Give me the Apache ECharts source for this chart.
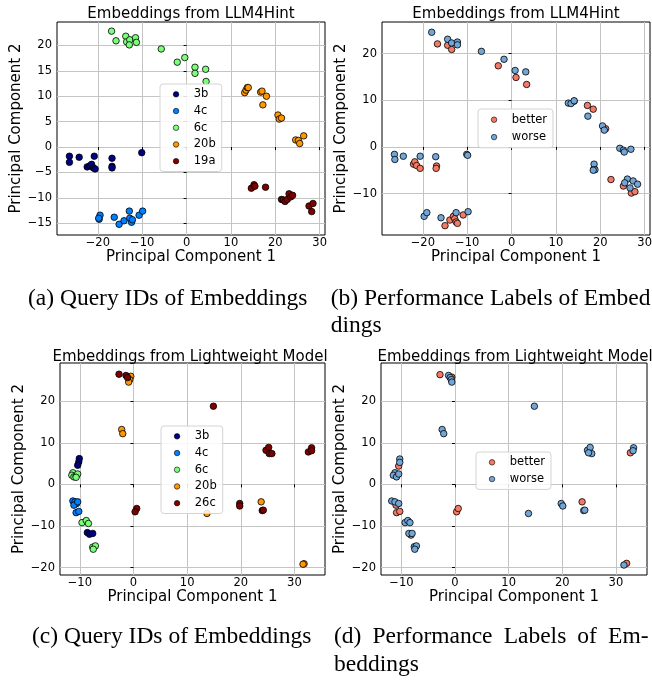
<!DOCTYPE html>
<html>
<head>
<meta charset="utf-8">
<script src="https://cdn.jsdelivr.net/npm/echarts@6/dist/echarts.min.js"></script>
<style>
html,body{margin:0;padding:0;background:#fff;}
#chart{width:652px;height:681px;}
</style>
</head>
<body>
<div id="chart"></div>
<script>
// ---------- DATA ----------
// Panel (a): Query IDs, LLM4Hint
const a3b  = [[-26.4,-1.8],[-26.4,-3.0],[-24.2,-2.0],[-22.4,-3.9],[-21.8,-3.7],[-21.4,-3.4],[-21.0,-4.1],[-20.8,-1.8],[-20.6,-4.3],[-16.8,-2.2],[-16.8,-3.8],[-16.8,-4.1],[-10.1,-1.1]];
const a4c  = [[-19.7,-14.2],[-19.5,-13.4],[-19.8,-14.0],[-16.3,-13.8],[-15.2,-15.2],[-14.1,-14.5],[-12.9,-12.6],[-12.8,-14.0],[-12.4,-14.8],[-12.2,-14.3],[-10.7,-13.4],[-9.9,-12.6]];
const a6c  = [[-16.9,22.8],[-15.9,20.9],[-13.7,21.8],[-13.5,20.7],[-12.8,21.1],[-12.9,20.1],[-11.5,21.5],[-11.3,20.6],[-5.7,19.3],[-2.1,16.7],[-0.4,17.6],[1.9,15.7],[1.9,14.5],[4.3,15.3],[4.4,12.9]];
const a20b = [[13.1,10.7],[13.4,11.2],[13.7,11.7],[13.9,11.7],[16.7,10.8],[17.0,11.0],[18.0,10.0],[17.2,8.3],[20.6,6.3],[20.9,5.5],[21.4,5.7],[24.6,1.4],[25.2,1.3],[25.5,0.7],[26.4,2.2]];
const a19a = [[14.6,-8.1],[15.2,-7.4],[15.4,-7.7],[17.8,-7.9],[21.4,-10.3],[21.8,-10.4],[22.2,-10.7],[22.7,-10.3],[23.1,-9.2],[23.5,-9.8],[23.9,-9.5],[27.6,-11.6],[28.2,-12.7],[28.5,-11.1]];

// Panel (b): Performance labels, LLM4Hint
const bBetter = [[-16.7,22.1],[-14.4,21.8],[-13.5,20.9],[-3.0,17.4],[1.0,14.9],[3.4,13.4],[14.1,9.8],[17.1,8.9],[18.4,8.1],[21.2,3.9],[18.6,-4.6],[22.4,-7.0],[25.2,-8.4],[27.0,-9.9],[27.8,-9.6],[-22.1,-3.7],[-21.8,-3.2],[-21.4,-4.0],[-20.6,-4.6],[-16.9,-4.1],[-17.0,-4.6],[-15.0,-16.9],[-13.9,-15.7],[-13.1,-14.9],[-12.8,-15.4],[-12.5,-16.1],[-12.2,-16.4],[-10.9,-14.6]];
const bWorse  = [[-18.0,24.6],[-14.4,23.1],[-13.5,22.3],[-12.2,22.5],[-12.2,21.9],[-6.8,20.5],[-1.7,18.8],[0.8,16.4],[3.2,16.1],[12.8,9.4],[13.4,9.3],[14.1,9.9],[17.2,6.6],[20.5,4.5],[20.9,3.6],[24.4,-0.3],[25.2,-0.7],[25.4,-1.1],[26.9,-0.5],[18.6,-3.7],[18.8,-4.9],[18.4,-5.0],[26.1,-6.9],[25.5,-7.7],[26.7,-8.8],[27.4,-7.3],[28.4,-8.0],[-26.4,-1.6],[-26.3,-2.7],[-24.4,-2.0],[-20.6,-2.0],[-17.1,-2.1],[-10.1,-1.6],[-9.9,-1.8],[-19.7,-14.9],[-19.1,-14.1],[-15.9,-15.2],[-12.5,-14.1],[-9.8,-13.9]];

// Panel (c): Query IDs, Lightweight model
const c3b  = [[-10.1,6.2],[-10.2,5.4],[-10.4,4.6],[-8.6,-11.6],[-8.2,-12.0],[-7.6,-11.8]];
const c4c  = [[-11.3,-4.0],[-10.9,-4.2],[-10.6,-4.6],[-11.1,-5.0],[-10.4,-4.2],[-10.7,-6.8],[-10.2,-6.5]];
const c6c  = [[-11.3,2.8],[-11.5,2.2],[-11.1,1.8],[-10.7,2.0],[-10.4,2.5],[-10.7,1.7],[-9.6,-9.2],[-8.8,-8.7],[-8.4,-9.4],[-7.6,-15.1],[-7.1,-14.8],[-7.5,-15.6]];
const c20b = [[-0.5,26.0],[-0.7,25.2],[-0.9,24.6],[-2.2,13.2],[-2.0,12.2],[13.7,-7.0],[23.8,-4.2],[31.8,-19.1],[31.6,-19.2]];
const c26c = [[-2.7,26.5],[-1.4,26.2],[-1.1,25.7],[14.9,18.8],[0.6,-5.8],[0.3,-6.6],[19.8,-4.6],[19.8,-5.2],[24.0,-6.3],[24.2,-6.2],[24.7,8.2],[25.2,8.9],[25.3,7.4],[25.8,7.4],[32.6,7.8],[33.2,8.8],[33.2,8.1]];

// Panel (d): Performance labels, Lightweight model
const dBetter = [[-2.8,26.4],[-0.6,25.8],[23.7,-4.2],[32.7,7.6],[32.0,-19.0],[-10.9,-6.8],[-10.3,-6.5],[0.3,-6.6],[0.6,-5.8],[-10.5,4.4],[-11.0,-5.0],[-8.2,-12.2]];
const dWorse  = [[-1.2,26.2],[-0.9,25.7],[-0.7,25.2],[-0.6,24.6],[-2.4,13.2],[-2.1,12.2],[14.8,18.8],[13.7,-7.0],[19.8,-4.6],[20.1,-5.2],[24.0,-6.3],[24.2,-6.2],[24.7,8.2],[25.2,8.9],[25.5,7.4],[24.9,7.6],[33.3,8.8],[33.2,8.1],[-11.2,2.8],[-11.5,2.2],[-10.9,1.8],[-10.5,2.5],[-11.8,-4.0],[-11.2,-4.2],[-10.5,-4.6],[-10.3,6.1],[-10.3,5.3],[-9.3,-9.2],[-8.8,-8.7],[-8.4,-9.2],[-8.6,-11.8],[-8.0,-11.8],[-7.6,-15.0],[-7.2,-14.8],[-7.5,-15.6],[31.5,-19.4]];

// Tick labels
const abXTicks = [-20,-10,0,10,20,30];
const aYTicks  = [-15,-10,-5,0,5,10,15,20];
const bYTicks  = [-10,0,10,20];
const cdXTicks = [-10,0,10,20,30];
const cdYTicks = [-20,-10,0,10,20];

const queryNamesTop = ['3b','4c','6c','20b','19a'];
const queryNamesBottom = ['3b','4c','6c','20b','26c'];
const perfNames = ['better','worse'];
const titles = ['Embeddings from LLM4Hint','Embeddings from LLM4Hint','Embeddings from Lightweight Model','Embeddings from Lightweight Model'];

// ---------- STYLE ----------
const jet = {'3b':'#000080','4c':'#0080ff','6c':'#7bff7b','20b':'#ff9700','19a':'#800000','26c':'#800000'};
const perfColor = {'better':'#f47a66','worse':'#72a6d6'};
const SANS = 'DejaVu Sans';
const SERIF = 'Liberation Serif';
const CAP_SIZE = 23.5;

function fmt(v){ return v < 0 ? '\u2212' + Math.abs(v) : String(v); }

function xAxis(gi, min, max, ticks){
  return {
    gridIndex: gi, type: 'value', min: min, max: max,
    name: 'Principal Component 1', nameLocation: 'middle', nameGap: 14,
    nameTextStyle: {fontSize: 15, color: '#000', fontFamily: SANS},
    axisLine: {show: false},
    axisTick: {show: true, length: 3, customValues: ticks, lineStyle: {color: '#000', width: 1}},
    axisLabel: {customValues: ticks, fontSize: 11.5, color: '#000', margin: 2, fontFamily: SANS, formatter: fmt},
    splitLine: {show: true, lineStyle: {color: '#c4c4c4', width: 1}}
  };
}
function yAxis(gi, min, max, ticks, gap){
  return {
    gridIndex: gi, type: 'value', min: min, max: max,
    name: 'Principal Component 2', nameLocation: 'middle', nameGap: gap,
    nameTextStyle: {fontSize: 15, color: '#000', fontFamily: SANS},
    axisLine: {show: false},
    axisTick: {show: true, length: 3, customValues: ticks, lineStyle: {color: '#000', width: 1}},
    axisLabel: {customValues: ticks, fontSize: 11.5, color: '#000', margin: 5, fontFamily: SANS, formatter: fmt},
    splitLine: {show: true, lineStyle: {color: '#c4c4c4', width: 1}}
  };
}
function sc(name, data, gi, color){
  return {
    type: 'scatter', name: name, data: data, xAxisIndex: gi, yAxisIndex: gi,
    symbol: 'circle', symbolSize: 6.5,
    itemStyle: {color: color, borderColor: '#000', borderWidth: 0.8, opacity: 1},
    emphasis: {disabled: true}, z: 3
  };
}
function legend(names, left, top, gap){
  return {
    data: names, orient: 'vertical', left: left, top: top,
    padding: [2, 6, 2, 13], itemWidth: 5.5, itemHeight: 5.5, itemGap: 0,
    selectedMode: false, icon: 'circle',
    itemStyle: {borderColor: '#000', borderWidth: 0.6},
    textStyle: {fontSize: 11.5, color: '#000', fontFamily: SANS, lineHeight: gap, padding: [0, 0, 0, 10]},
    backgroundColor: 'rgba(255,255,255,0.85)', borderColor: '#d4d4d4', borderWidth: 1, borderRadius: 3
  };
}
function title(text, cx, top){
  return {text: text, left: cx, top: top, textAlign: 'center', padding: 0,
    textStyle: {fontSize: 15, fontWeight: 'normal', color: '#000', fontFamily: SANS, lineHeight: 18}};
}
function cap(text, x, y){
  return {type: 'text', x: x, y: y, silent: true,
    style: {text: text, fontSize: CAP_SIZE, fontFamily: SERIF, fill: '#000', align: 'left', verticalAlign: 'middle'}};
}
// justified caption line (words spread between x0 and x1)
function justified(words, x0, x1, y){
  const ctx = document.createElement('canvas').getContext('2d');
  ctx.font = CAP_SIZE + 'px "' + SERIF + '"';
  const widths = words.map(w => ctx.measureText(w).width);
  const total = widths.reduce((s, w) => s + w, 0);
  const gap = (x1 - x0 - total) / (words.length - 1);
  const out = [];
  let x = x0;
  words.forEach((w, i) => { out.push(cap(w, x, y)); x += widths[i] + gap; });
  return out;
}

const grids = [
  {left: 57, top: 22, width: 268, height: 213},
  {left: 382, top: 22, width: 268, height: 213},
  {left: 60, top: 363, width: 265, height: 212},
  {left: 381, top: 363, width: 266, height: 212}
].map(g => Object.assign({show: true, borderColor: '#000', borderWidth: 1, backgroundColor: 'transparent', containLabel: false, outerBoundsMode: 'none'}, g));

const series = [];
const aSets = [a3b, a4c, a6c, a20b, a19a];
queryNamesTop.forEach((n, i) => series.push(sc(n, aSets[i], 0, jet[n])));
series.push(sc('better', bBetter, 1, perfColor.better));
series.push(sc('worse', bWorse, 1, perfColor.worse));
const cSets = [c3b, c4c, c6c, c20b, c26c];
queryNamesBottom.forEach((n, i) => series.push(sc(n, cSets[i], 2, jet[n])));
series.push(sc('better', dBetter, 3, perfColor.better));
series.push(sc('worse', dWorse, 3, perfColor.worse));

const graphics = [
  cap('(a) Query IDs of Embeddings', 28, 298.7),
  cap('(b) Performance Labels of Embed', 330.7, 298.7),
  cap('dings', 330.7, 326.3),
  cap('(c) Query IDs of Embeddings', 32, 637),
  cap('beddings', 334, 665)
].concat(justified(['(d)', 'Performance', 'Labels', 'of', 'Em-'], 334, 648.5, 637));

const option = {
  animation: false,
  backgroundColor: '#fff',
  title: [title(titles[0], 191, 5), title(titles[1], 516, 5), title(titles[2], 190, 348), title(titles[3], 515, 348)],
  grid: grids,
  xAxis: [xAxis(0, -29.2, 31.2, abXTicks), xAxis(1, -29.2, 31.2, abXTicks), xAxis(2, -13.7, 35.7, cdXTicks), xAxis(3, -13.8, 35.8, cdXTicks)],
  yAxis: [yAxis(0, -17.3, 24.6, aYTicks, 28), yAxis(1, -18.9, 26.8, bYTicks, 28), yAxis(2, -21.8, 29.2, cdYTicks, 26), yAxis(3, -21.8, 29.2, cdYTicks, 27)],
  legend: [
    legend(queryNamesTop, 160, 84, 16.7),
    legend(perfNames, 478, 109, 17.4),
    legend(queryNamesBottom, 161, 426, 16.7),
    legend(perfNames, 476, 452, 16.7)
  ],
  series: series,
  graphic: graphics
};

const chart = echarts.init(document.getElementById('chart'), null, {renderer: 'canvas'});
chart.setOption(option);
</script>
</body>
</html>
